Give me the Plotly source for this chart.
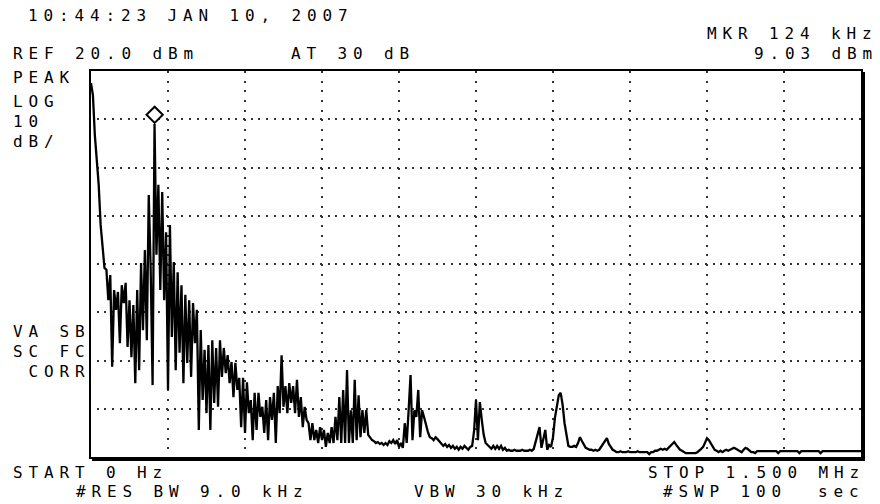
import plotly.graph_objects as go

# ---------------- data ----------------
START_KHZ = 0
STOP_KHZ = 1500
N_POINTS = 401
REF_DBM = 20
DB_PER_DIV = 10
N_VDIV = 8
N_HDIV = 10

MKR_FREQ_KHZ = 124
MKR_LEVEL_DBM = 9.03

LEVEL_DBM = [
    17.5, 15.0, 6.7, 1.6, -3.6, -11.9, -16.7, -20.8, -21.2, -27.5,
    -22.3, -41.3, -25.4, -29.5, -25.8, -36.4, -24.4, -28.1, -23.9, -37.2,
    -27.5, -39.3, -28.5, -44.7, -25.4, -42.0, -19.8, -33.7, -17.1, -35.8,
    -5.7, -21.2, -45.1, 9.03, -18.1, -3.6, -25.4, -5.1, -27.5, -13.4,
    -46.1, -11.9, -35.1, -19.6, -42.0, -21.7, -38.4, -24.4, -44.7, -26.4,
    -40.5, -27.5, -43.4, -28.1, -36.4, -29.5, -54.4, -33.7, -48.2, -37.8,
    -50.9, -36.8, -54.4, -35.8, -48.8, -37.4, -49.6, -35.8, -43.4, -37.4,
    -42.6, -38.9, -44.7, -40.3, -47.6, -40.5, -46.1, -43.6, -53.8, -43.6,
    -55.0, -44.5, -50.9, -48.2, -56.5, -46.7, -54.4, -46.7, -51.7, -49.6,
    -55.0, -48.2, -56.5, -47.6, -52.3, -46.7, -57.1, -45.3, -50.9, -38.9,
    -49.6, -45.3, -50.9, -44.7, -48.8, -45.3, -50.9, -44.0, -51.7, -47.6,
    -53.8, -49.6, -52.3, -53.0, -56.5, -53.0, -56.5, -54.4, -57.1, -53.8,
    -56.5, -54.4, -57.9, -55.0, -57.1, -53.8, -57.1, -51.7, -56.5, -47.6,
    -57.1, -46.1, -57.1, -42.0, -57.1, -50.3, -57.1, -44.0, -56.5, -47.2,
    -55.9, -50.3, -55.0, -50.3, -55.4, -56.1, -56.5, -56.7, -57.1, -56.9,
    -57.3, -57.1, -57.5, -57.1, -57.5, -56.7, -57.1, -56.5, -57.3, -56.5,
    -57.9, -57.1, -58.1, -53.0, -57.1, -50.3, -43.0, -56.5, -50.3, -51.7,
    -46.1, -55.9, -50.3, -51.7, -53.4, -54.8, -55.9, -56.1, -56.5, -55.9,
    -56.3, -56.7, -57.1, -57.7, -57.3, -57.9, -57.5, -58.1, -57.7, -58.3,
    -57.9, -58.5, -57.9, -58.3, -57.7, -58.1, -58.5, -57.9, -57.7, -54.6,
    -48.2, -56.5, -48.6, -52.3, -55.4, -57.1, -57.5, -57.9, -58.3, -57.7,
    -58.3, -57.7, -58.3, -57.7, -58.5, -58.1, -58.7, -58.5, -58.7, -58.7,
    -58.5, -58.7, -58.7, -58.7, -58.5, -58.7, -58.7, -58.7, -58.5, -58.7,
    -58.3, -56.9, -55.0, -53.8, -58.1, -56.5, -54.4, -58.5, -57.5, -57.9,
    -55.9, -51.9, -49.6, -47.2, -46.7, -49.2, -53.0, -55.9, -57.7, -57.9,
    -57.9, -57.7, -57.9, -57.1, -55.9, -56.7, -57.3, -58.1, -58.3, -58.5,
    -58.5, -58.7, -58.5, -58.7, -58.5, -57.9, -57.1, -56.5, -56.1, -57.3,
    -57.9, -58.5, -58.7, -59.0, -59.0, -58.8, -59.0, -59.0, -59.0, -58.8,
    -59.0, -59.0, -59.0, -59.0, -58.8, -59.0, -59.0, -59.0, -59.0, -59.0,
    -59.4, -59.0, -59.0, -58.7, -58.7, -58.5, -58.3, -58.5, -58.3, -58.5,
    -58.1, -57.7, -57.1, -56.9, -57.5, -58.1, -58.5, -58.7, -59.0, -59.2,
    -59.2, -59.2, -59.2, -59.2, -59.2, -59.0, -58.7, -58.3, -57.9, -56.9,
    -56.1, -56.5, -57.1, -57.9, -58.5, -58.7, -59.0, -58.7, -59.0, -58.7,
    -58.5, -58.7, -58.5, -58.3, -58.1, -58.3, -58.5, -58.7, -59.0, -58.5,
    -58.1, -58.3, -58.7, -59.0, -59.0, -59.2, -58.8, -58.8, -58.8, -58.8,
    -58.8, -58.8, -58.8, -58.8, -58.8, -58.8, -58.8, -59.2, -58.8, -58.8,
    -58.8, -58.8, -58.8, -58.8, -58.8, -58.8, -58.8, -58.8, -59.2, -58.8,
    -58.8, -58.8, -58.8, -58.8, -58.8, -58.8, -58.8, -58.8, -58.8, -59.2,
    -58.8, -58.8, -58.8, -58.8, -58.8, -58.8, -58.8, -58.8, -58.8, -58.8,
    -58.8, -58.8, -58.8, -58.8, -58.8, -58.8, -58.8, -58.8, -58.8, -58.8,
    -58.8,
]

FREQ_KHZ = [START_KHZ + (STOP_KHZ - START_KHZ) * i / (N_POINTS - 1) for i in range(N_POINTS)]

# screen annotation strings
TXT_TIME = "10:44:23 JAN 10, 2007"
TXT_MKR = "MKR 124 kHz"
TXT_MKR_LVL = "9.03 dBm"
TXT_REF = "REF 20.0 dBm"
TXT_ATT = "AT 30 dB"
TXT_LEFT_TOP = ["PEAK", "LOG", "10", "dB/"]
TXT_LEFT_BOT = ["VA SB", "SC FC", " CORR"]
TXT_START = "START 0 Hz"
TXT_RBW = "#RES BW 9.0 kHz"
TXT_VBW = "VBW 30 kHz"
TXT_STOP = "STOP 1.500 MHz"
TXT_SWP = "#SWP 100"
TXT_SEC = "sec"

# ---------------- layout ----------------
W, H = 880, 504
L, R, T, B = 91, 19, 71, 47
PW, PH = W - L - R, H - T - B
FONT = "DejaVu Sans Mono"
FS = 16
PITCH = 15.5
LS = PITCH - 0.602 * FS
INK = "#000000"

y_bottom = REF_DBM - DB_PER_DIV * N_VDIV
px_per_db = PH / (REF_DBM - y_bottom)


def px_x(px):
    return (px - L) / PW


def px_y(py):
    return (H - B - py) / PH


def label(txt, x, y):
    t = txt.replace(" ", "\u00a0")
    return dict(
        text='<span style="letter-spacing:%.2fpx">%s</span>' % (LS, t),
        x=px_x(x), y=px_y(y), xref="paper", yref="paper",
        xanchor="left", yanchor="middle", showarrow=False,
        borderpad=0, borderwidth=0,
        font=dict(family=FONT, size=FS, color=INK),
    )


fig = go.Figure()
fig.add_trace(go.Scatter(
    x=FREQ_KHZ, y=LEVEL_DBM, mode="lines",
    line=dict(color="#000000", width=2.3),
    hoverinfo="skip", showlegend=False,
))

diamond_size = 12.5
diamond_offset_px = 1.3 * diamond_size / 2 + 1
fig.add_trace(go.Scatter(
    x=[MKR_FREQ_KHZ], y=[MKR_LEVEL_DBM + diamond_offset_px / px_per_db],
    mode="markers",
    marker=dict(symbol="diamond", size=diamond_size, color="white",
                line=dict(color="#000000", width=2)),
    hoverinfo="skip", showlegend=False,
))

annotations = [
    label(TXT_TIME, 28, 15.5),
    label(TXT_MKR, 707, 33.5),
    label(TXT_REF, 13, 53),
    label(TXT_ATT, 291, 53),
    label(TXT_MKR_LVL, 754, 53),
]
for k, t in enumerate(TXT_LEFT_TOP):
    annotations.append(label(t, 13, [77.5, 101, 121, 141][k]))
for k, t in enumerate(TXT_LEFT_BOT):
    annotations.append(label(t, 13, [331.5, 351.5, 371.5][k]))
annotations += [
    label(TXT_START, 13, 472.5),
    label(TXT_STOP, 648, 472.5),
    label(TXT_RBW, 76, 491),
    label(TXT_VBW, 414, 491),
    label(TXT_SWP, 663, 491),
    label(TXT_SEC, 818, 491),
]

shapes = [
    dict(type="line", xref="paper", yref="paper",
         x0=1 + 3 / PW, x1=1 + 3 / PW, y0=-3 / PH, y1=1 - 1 / PH,
         line=dict(color="#000000", width=2)),
    dict(type="line", xref="paper", yref="paper",
         x0=1 / PW, x1=1 + 4 / PW, y0=-3 / PH, y1=-3 / PH,
         line=dict(color="#000000", width=2)),
]

fig.update_layout(
    width=W, height=H,
    margin=dict(l=L, r=R, t=T, b=B, pad=0),
    paper_bgcolor="white", plot_bgcolor="white",
    showlegend=False,
    annotations=annotations,
    shapes=shapes,
    xaxis=dict(
        range=[START_KHZ, STOP_KHZ], tick0=START_KHZ,
        dtick=(STOP_KHZ - START_KHZ) / N_HDIV,
        showticklabels=False, ticks="", zeroline=False,
        showgrid=True, gridcolor="#333333", gridwidth=1.6,
        griddash="2px,7.65px",
        showline=True, mirror=True, linecolor="#000000", linewidth=2,
        fixedrange=True,
    ),
    yaxis=dict(
        range=[y_bottom, REF_DBM], tick0=y_bottom, dtick=DB_PER_DIV,
        showticklabels=False, ticks="", zeroline=False,
        showgrid=True, gridcolor="#333333", gridwidth=1.6,
        griddash="0px,5.7px,2px,0px",
        showline=True, mirror=True, linecolor="#000000", linewidth=2,
        fixedrange=True,
    ),
)

fig.write_html("out.html", config={"displayModeBar": False})
